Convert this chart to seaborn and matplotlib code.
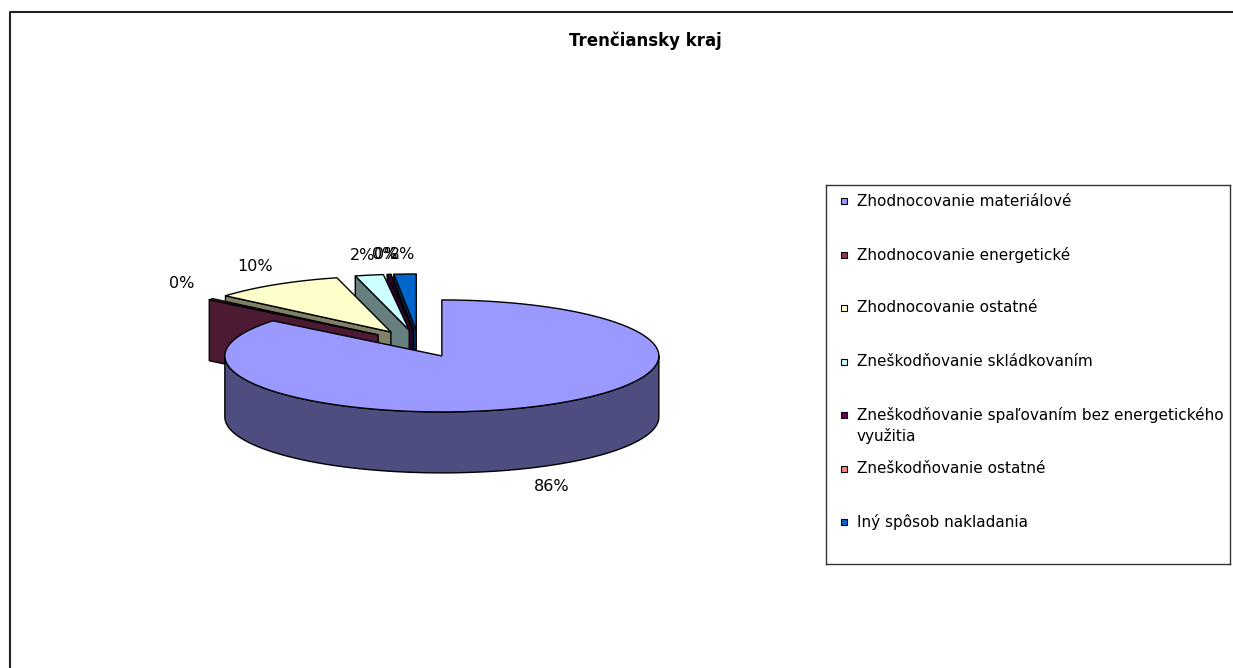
import numpy as np
import pandas as pd
import matplotlib
matplotlib.use('Agg')
import matplotlib.pyplot as plt
import matplotlib.colors as mcolors
from matplotlib.patches import Polygon, Rectangle
from matplotlib.lines import Line2D
import seaborn as sns

# values (percent of total)
categories = [
    'Zhodnocovanie materiálové',
    'Zhodnocovanie energetické',
    'Zhodnocovanie ostatné',
    'Zneškodňovanie skládkovaním',
    'Zneškodňovanie spaľovaním bez energetického\nvyužitia',
    'Zneškodňovanie ostatné',
    'Iný spôsob nakladania',
]
shares = [85.8, 0.4, 9.8, 2.1, 0.2, 0.05, 1.65]
top_colors = ['#9999FF', '#993366', '#FFFFCC', '#CCFFFF', '#660066', '#FF8080', '#0066CC']
title = 'Trenčiansky kraj'

sns.set_theme(style='white')
plt.rcParams['font.family'] = ['DejaVu Sans']

W, H = 1233, 668
fig = plt.figure(figsize=(W / 100, H / 100), dpi=100)
fig.patch.set_facecolor('white')

# slice angles: start at 12 o'clock, clockwise
df = pd.DataFrame({'category': categories, 'share': shares, 'color': top_colors})
df['sweep'] = df['share'] / df['share'].sum() * 360
df['hi'] = 90 - df['sweep'].cumsum().shift(fill_value=0)
df['lo'] = df['hi'] - df['sweep']
df['mid'] = (df['hi'] + df['lo']) / 2
df['label'] = df['share'].round().astype(int).astype(str) + '%'

TILT = 0.258     # ellipse flattening
DEPTH = 0.281    # thickness of the pie
EXPLODE = 0.244  # offset of every slice from the centre
R_PX = 217
CX, CY = 419, 343.6

# pie axes, 1 data unit = R_PX pixels in both directions
ax = fig.add_axes([(CX - 1.6 * R_PX) / W, (H - CY - 1.2 * R_PX) / H,
                   3.2 * R_PX / W, 2.4 * R_PX / H])
ax.set_xlim(-1.6, 1.6)
ax.set_ylim(-1.2, 1.2)
ax.axis('off')


def pt(x, y, z=0.0):
    return (x, TILT * y + z)


def darker(c):
    return tuple(np.array(mcolors.to_rgb(c)) * 0.5)


sides, tops = [], []
for _, row in df.iterrows():
    m = np.radians(row['mid'])
    ox, oy = EXPLODE * np.cos(m), EXPLODE * np.sin(m)
    n = max(int(row['sweep'] * 2), 2) + 1
    th = np.radians(np.linspace(row['lo'], row['hi'], n))

    top = [pt(ox, oy)] + [pt(ox + np.cos(a), oy + np.sin(a)) for a in th]
    tops.append((oy + 0.6 * np.mean(np.sin(th)), top, row['color']))

    # front part of the outer wall
    for k in range(-2, 2):
        a0 = max(row['lo'], 180 + 360 * k)
        a1 = min(row['hi'], 360 + 360 * k)
        if a1 - a0 <= 0:
            continue
        ta = np.radians(np.linspace(a0, a1, max(int((a1 - a0) * 2), 2) + 1))
        upper = [pt(ox + np.cos(a), oy + np.sin(a)) for a in ta]
        lower = [pt(ox + np.cos(a), oy + np.sin(a), -DEPTH) for a in ta[::-1]]
        sides.append((oy + np.mean(np.sin(ta)), upper + lower, darker(row['color'])))

    # radial cut faces turned to the viewer
    for ang, visible in ((row['hi'], np.cos(np.radians(row['hi'])) < -1e-9),
                         (row['lo'], np.cos(np.radians(row['lo'])) > 1e-9)):
        if not visible:
            continue
        a = np.radians(ang)
        ex, ey = ox + np.cos(a), oy + np.sin(a)
        face = [pt(ox, oy), pt(ex, ey), pt(ex, ey, -DEPTH), pt(ox, oy, -DEPTH)]
        sides.append((oy + 0.5 * np.sin(a), face, darker(row['color'])))

for key, poly, fc in sorted(sides, key=lambda f: -f[0]):
    ax.add_patch(Polygon(poly, closed=True, facecolor=fc, edgecolor='black',
                         lw=1.0, joinstyle='round', zorder=1))
for key, poly, fc in sorted(tops, key=lambda f: -f[0]):
    ax.add_patch(Polygon(poly, closed=True, facecolor=fc, edgecolor='black',
                         lw=1.0, joinstyle='round', zorder=2))

# percentage labels
for _, row in df.iterrows():
    m = np.radians(row['mid'])
    s = np.sin(m)
    lx = 1.42 * np.cos(m)
    ly = TILT * 1.42 * s + 0.045 * np.sign(s) - DEPTH * (s < 0)
    ax.text(lx, ly, row['label'], ha='center', va='center', fontsize=11.5,
            color='black', zorder=3)

# title
fig.text(645.5 / W, 1 - 41 / H, title, ha='center', va='center',
         fontsize=12, fontweight='bold', color='black')

# legend box
LX0, LY0, LX1, LY1 = 826, 185, 1230, 564
lax = fig.add_axes([LX0 / W, (H - LY1) / H, (LX1 - LX0) / W, (LY1 - LY0) / H])
lax.set_xlim(0, LX1 - LX0)
lax.set_ylim(LY1 - LY0, 0)
lax.set_xticks([])
lax.set_yticks([])
for sp in lax.spines.values():
    sp.set_visible(True)
    sp.set_color('#333333')
    sp.set_linewidth(1.0)
for i, row in df.iterrows():
    yc = 16 + 53.5 * i
    lax.add_patch(Rectangle((15, yc - 3), 6, 6, facecolor=row['color'],
                            edgecolor='black', lw=0.8))
    for j, line in enumerate(row['category'].split('\n')):
        lax.text(31, yc + 21 * j, line, ha='left', va='center', fontsize=11,
                 color='black')

# chart area border (left and top edges visible)
fig.add_artist(Line2D([10 / W, 10 / W, 1.01], [-0.01, 1 - 12 / H, 1 - 12 / H],
                      transform=fig.transFigure, color='#222222', lw=1.5))

fig.savefig('out.png', dpi=100, facecolor='white')
